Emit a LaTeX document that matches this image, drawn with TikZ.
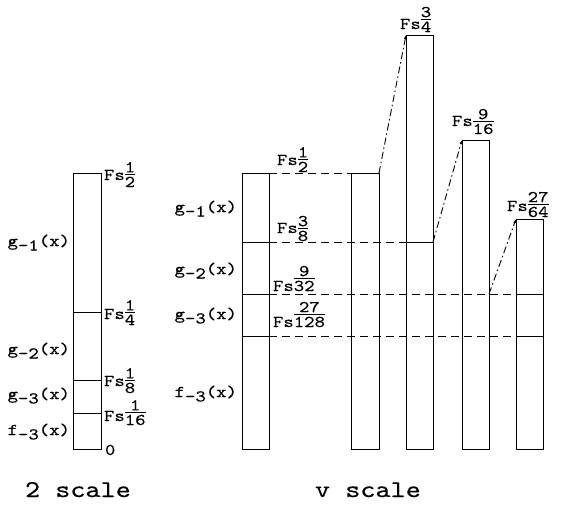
\documentclass[tikz,border=0pt]{standalone}
\usepackage{fontspec}
\setmonofont[FakeStretch=1.2,FakeBold=0.4]{lmmono10-regular.otf}
\usetikzlibrary{arrows.meta}
\newcommand\fracbox[2]{\vbox{\halign{\hfil##\hfil\cr #1\cr\noalign{\kern1.8pt\hrule height 0.8pt\kern1.8pt}#2\cr}}}
\newcommand\fsv[3]{Fs\raisebox{#1}{\fracbox{#2}{#3}}}
\newcommand\fx[2]{#1\raisebox{-4.5pt}{#2}(x)}
\begin{document}
\begin{tikzpicture}[x=1pt,y=-1pt,
  every node/.style={font=\ttfamily\fontsize{16.5}{19}\selectfont, inner sep=0pt, outer sep=0pt},
  bar/.style={draw, line width=0.9pt, rectangle, minimum width=27pt, anchor=south west},
  div/.style={line width=0.9pt},
  hdash/.style={line width=0.9pt, dash pattern=on 8pt off 5pt},
  ddash/.style={line width=0.9pt, dash pattern=on 7pt off 3pt on 1.5pt off 3pt, -{Latex[length=4pt,width=3pt]}},
  lab/.style={anchor=base east},
  val/.style={anchor=base west},
  big/.style={anchor=base west, font=\ttfamily\fontsize{24}{28}\selectfont}]
\useasboundingbox (0,0) rectangle (568,504);
% levels
\coordinate (Lq) at (0,312);
\coordinate (Le) at (0,380);
\coordinate (Ls) at (0,413);
\coordinate (La) at (0,242);
\coordinate (Lb) at (0,294);
\coordinate (Lc) at (0,336);
% bars
\node[bar, minimum width=28pt, minimum height=276pt] (B0) at (73,449) {};
\node[bar, minimum height=276pt] (B1) at (242,449) {};
\node[bar, minimum width=28pt, minimum height=276pt] (B2) at (351,449) {};
\node[bar, minimum height=414pt] (B3) at (406,449) {};
\node[bar, minimum height=309pt] (B4) at (462,449) {};
\node[bar, minimum height=230pt] (B5) at (516,449) {};
% divisions
\draw[div] (B0.west |- Lq) -- (B0.east |- Lq);
\draw[div] (B0.west |- Le) -- (B0.east |- Le);
\draw[div] (B0.west |- Ls) -- (B0.east |- Ls);
\draw[div] (B1.west |- La) -- (B1.east |- La);
\draw[div] (B1.west |- Lb) -- (B1.east |- Lb);
\draw[div] (B1.west |- Lc) -- (B1.east |- Lc);
\draw[div] (B3.west |- La) -- (B3.east |- La);
\draw[div] (B5.west |- Lb) -- (B5.east |- Lb);
\draw[div] (B5.west |- Lc) -- (B5.east |- Lc);
% dashed levels
\draw[hdash] (B1.north east) -- (B2.north west);
\draw[hdash] (B1.east |- La) -- (B3.west |- La);
\draw[hdash] (B1.east |- Lb) -- (B5.west |- Lb);
\draw[hdash] (B1.east |- Lc) -- (B5.west |- Lc);
% diagonals
\draw[ddash] (B2.north east) -- (B3.north west);
\draw[ddash] (B3.east |- La) -- (B4.north west);
\draw[ddash] (B4.east |- Lb) -- (B5.north west);
% left labels
\node[lab] (a1) at (70,246) {\fx{g}{-1}};
\node[lab] (a2) at (70,354) {\fx{g}{-2}};
\node[lab] (a3) at (70,399) {\fx{g}{-3}};
\node[lab] (a4) at (70,435) {\fx{f}{-3}};
\node[lab] (b1) at (237,212) {\fx{g}{-1}};
\node[lab] (b2) at (237,274) {\fx{g}{-2}};
\node[lab] (b3) at (237,319) {\fx{g}{-3}};
\node[lab] (b4) at (237,397) {\fx{f}{-3}};
% value labels, 2 scale
\node[val] (v1) at (104,180) {\fsv{-7pt}{1}{2}};
\node[val] (v2) at (104,319) {\fsv{-6pt}{1}{4}};
\node[val] (v3) at (104,386) {\fsv{-7pt}{1}{8}};
\node[val] (v4) at (104,421) {\fsv{-4pt}{1}{16}};
\node[val] (v0) at (105,455) {0};
% value labels, v scale
\node[val] (w1) at (277,165) {\fsv{-7pt}{1}{2}};
\node[val] (w2) at (277,233) {\fsv{-8pt}{3}{8}};
\node[val] (w3) at (273,291) {\fsv{0pt}{9}{32}};
\node[val] (w4) at (273,327) {\fsv{0pt}{27}{128}};
\node[val] (w5) at (400,29) {\fsv{-3pt}{3}{4}};
\node[val] (w6) at (452,126) {\fsv{-8pt}{9}{16}};
\node[val] (w7) at (507,211) {\fsv{-6pt}{27}{64}};
% captions
\node[big] (c1) at (25,497) {2 scale};
\node[big] (c2) at (315,497) {v scale};
\end{tikzpicture}
\end{document}
